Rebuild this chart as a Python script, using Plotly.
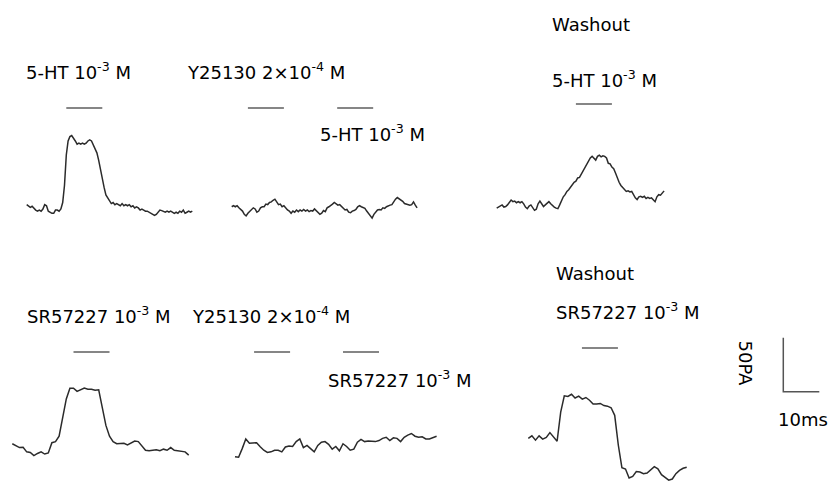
import numpy as np
import plotly.graph_objects as go

# ---------------- data (currents in pA relative to baseline) ----------------
DT_FINE = 0.5    # ms sampling interval, top row
DT_COARSE = 1.0  # ms sampling interval, bottom row

I_5HT = [4, 3, 1.5, 2.5, 0.5, -1, -2, -1, -2, 0,
         4, 3, -2, -3, -4, -4, -1, -1, -2, 0,
         6, 22, 50, 63, 67, 68, 66, 63, 60, 61,
         60, 61, 60, 61, 63, 64, 63, 59, 56, 52,
         45, 36, 27, 20, 13, 10, 7, 5, 6, 4,
         5, 4, 3, 5, 3, 4, 3, 4, 2, 3,
         1, 2, 1, -1, 0, -1, -2, -2, -3, -4,
         -5, -6, -5, -3, -1, -1.5, -2, -3, -2, -3,
         -2, -3, -4, -3, -4, -2, -3, -1, -4, -3,
         -2, -3, -2]

I_Y_5HT = [3, 4, 3, 4, 2, 0.5, -1, -4, -5.5, -3,
           -1.5, 0, 2, 1, -2, -1, 2, 3, 3, 5.5,
           5, 7, 7.5, 9, 10, 7.5, 5, 5.5, 3, 4,
           1.5, 0, -1, -3, -1, -2, 0, -1.5, 0, -1,
           0.5, -1, 0, -1.5, -0.5, -1, 1, -0.5, -2, -4,
           -3, -0.5, -1.5, 2, 3, 4, 5.5, 7, 6, 4.5,
           5, 3, 2, 0, 0.5, -2, -2.5, -1, -0.5, 0.5,
           3, 4, 3, 2, 1.5, -1, -3, -5.5, -7.5, -4,
           -1.5, 0, 0.5, 0, 2, 1.5, 3, 4, 4.5, 5,
           8, 10, 11.5, 10.5, 9, 8, 6, 5.5, 5, 4.5,
           5, 7.5, 4.5, 2]

I_WASH_5HT = [-2, -1, 0, 1, -1, -0.5, 1, 3, 5.5, 4,
              4.5, 3, 4, 3, 4, 2, -1, -2.5, 0, 1,
              -1, -4, -3, 2, 4.5, 2, -0.5, 1, 3, 4,
              2, 0, -1, -2, -2.5, 1, 5.5, 8.5, 10.5, 13.5,
              15, 17.5, 20.5, 22, 23, 26, 26.5, 29.5, 33, 36,
              39.5, 42.5, 44.5, 46, 44, 42.5, 46, 47, 45.5, 46.5,
              46, 44.5, 39.5, 39, 36, 34.5, 30.5, 26, 22, 19,
              17, 15, 13.5, 14, 13, 13.5, 10, 7.5, 6, 8.5,
              9, 8, 9, 7, 8, 7, 7.5, 5.5, 4, 8.5,
              10.5, 10, 12, 14]

I_SR = [3, 1.5, -0.5, -0.3, -4.5, -5, -8, -6, -4.5, -6.5,
        -5.5, 4, 5, 10, 27, 44.5, 54.5, 54.5, 51.5, 53,
        54.5, 53.5, 53.5, 52.5, 53, 36.5, 20, 10, 5, 3,
        3, 3.5, 2, 4, 5.5, 5, 1, -3, -3.5, -3,
        -2.5, -3.5, -2, -3, -0.5, -3, -3.5, -4, -4.5, -7.5]

I_Y_SR = [-9, -9.5, -1.5, 7.5, 3.5, 3.5, 4, 0.3, -3, -5,
          -4.5, -3, -3, -4.5, 0, 1, 0.5, 5, 7.5, -0.5,
          1.5, -1.5, -4.5, 1.5, 4.5, 5, 2.5, -2, 0.5, -3.5,
          3, 0.5, -3, -2, 4.5, 7, 5, 5.5, 5.5, 5,
          6, 8, 9, 6, 8.5, 8, 5, 9, 11, 12.5,
          10, 9, 9.5, 7.5, 7.5, 9, 10]

I_WASH_SR = [-0.3, 2, -2, 2, -1, 0.5, 5, 1, -3, 24,
             39, 38.5, 40.5, 37, 38.7, 36, 37.5, 35, 31.5, 31.5,
             32, 30, 29.5, 28, 21, -6.5, -27.5, -28.7, -37, -35.5,
             -31, -31.5, -33, -32.5, -29.5, -26.5, -28.5, -34, -36.5, -39,
             -38, -33, -30, -28, -27]

# drug application periods (ms from start of each trace)
APP_5HT = [(11, 21)]
APP_Y_5HT = [(4.5, 14.5), (29.3, 39.3)]
APP_WASH_5HT = [(22, 32)]
APP_SR = [(17, 27)]
APP_Y_SR = [(5.3, 15.3), (30, 40)]
APP_WASH_SR = [(14.9, 24.9)]

SCALE_PA = 50
SCALE_MS = 10

LABELS = ["5-HT 10<sup>-3</sup> M", "Y25130 2×10<sup>-4</sup> M", "5-HT 10<sup>-3</sup> M",
          "Washout", "5-HT 10<sup>-3</sup> M",
          "SR57227 10<sup>-3</sup> M", "Y25130 2×10<sup>-4</sup> M", "SR57227 10<sup>-3</sup> M",
          "Washout", "SR57227 10<sup>-3</sup> M"]

# ---------------- layout / placement (pixels) ----------------
W, H = 830, 482
PX_PER_MS = 3.6
PX_PER_PA = 1.08

# (current, dt, applications, trace start x px, baseline y px, bar y px)
PANELS = [
    (I_5HT, DT_FINE, APP_5HT, 26.7, 209, 108),
    (I_Y_5HT, DT_FINE, APP_Y_5HT, 231.7, 210, 108),
    (I_WASH_5HT, DT_FINE, APP_WASH_5HT, 496.7, 206, 104),
    (I_SR, DT_COARSE, APP_SR, 12.3, 447, 352),
    (I_Y_SR, DT_COARSE, APP_Y_SR, 235, 447, 352),
    (I_WASH_SR, DT_COARSE, APP_WASH_SR, 528.3, 438, 348),
]
LABEL_POS = [(26, 71), (187, 71), (320, 132.7), (551.7, 24), (551.7, 79.3),
             (26.7, 314.5), (192, 314.5), (328.3, 379), (556, 273), (556, 311)]

TRACE_COLOR = "#2b2b2b"
BAR_COLOR = "#5e5e5e"
FONT = dict(family="DejaVu Sans", size=18, color="#000000")

fig = go.Figure()
layout_axes = {}

def add_axes(i, left, right, top, bottom, x0, base):
    xn = "x" if i == 1 else f"x{i}"
    yn = "y" if i == 1 else f"y{i}"
    layout_axes["xaxis" if i == 1 else f"xaxis{i}"] = dict(
        domain=[left / W, right / W],
        range=[(left - x0) / PX_PER_MS, (right - x0) / PX_PER_MS],
        visible=False, anchor=yn, fixedrange=True)
    layout_axes["yaxis" if i == 1 else f"yaxis{i}"] = dict(
        domain=[1 - bottom / H, 1 - top / H],
        range=[(base - bottom) / PX_PER_PA, (base - top) / PX_PER_PA],
        visible=False, anchor=xn, fixedrange=True)
    return xn, yn

for i, (cur, dt, apps, x0, base, bar_px) in enumerate(PANELS, start=1):
    t = np.arange(len(cur)) * dt
    left = max(x0 - 8, 0)
    right = min(x0 + t[-1] * PX_PER_MS + 8, W)
    top = max(bar_px - 10, 0)
    bottom = min(base + 50, H)
    xn, yn = add_axes(i, left, right, top, bottom, x0, base)
    fig.add_trace(go.Scatter(x=t, y=cur, mode="lines", xaxis=xn, yaxis=yn,
                             line=dict(color=TRACE_COLOR, width=1.5),
                             hoverinfo="skip", showlegend=False))
    bar_level = (base - bar_px) / PX_PER_PA
    for (on, off) in apps:
        fig.add_trace(go.Scatter(x=[on, off], y=[bar_level, bar_level], mode="lines",
                                 xaxis=xn, yaxis=yn,
                                 line=dict(color=BAR_COLOR, width=1.6),
                                 hoverinfo="skip", showlegend=False))

# scale bar panel
SB_X0, SB_BASE = 783.3, 391.7
xn, yn = add_axes(7, 770, 828, 325, 400, SB_X0, SB_BASE)
fig.add_trace(go.Scatter(x=[0, 0, SCALE_MS], y=[SCALE_PA, 0, 0], mode="lines",
                         xaxis=xn, yaxis=yn, line=dict(color="#555555", width=1.5),
                         hoverinfo="skip", showlegend=False))

annotations = []
for text, (lx, cy) in zip(LABELS, LABEL_POS):
    annotations.append(dict(text=text, x=lx / W, y=1 - cy / H, xref="paper", yref="paper",
                            xanchor="left", yanchor="middle", showarrow=False,
                            font=FONT, borderpad=0, borderwidth=0))
annotations.append(dict(text=f"{SCALE_PA}PA", x=745.5 / W, y=1 - 363 / H, xref="paper",
                        yref="paper", xanchor="center", yanchor="middle", textangle=90,
                        showarrow=False, font=FONT, borderpad=0, borderwidth=0))
annotations.append(dict(text=f"{SCALE_MS}ms", x=803 / W, y=1 - 419 / H, xref="paper",
                        yref="paper", xanchor="center", yanchor="middle",
                        showarrow=False, font=FONT, borderpad=0, borderwidth=0))

fig.update_layout(width=W, height=H, autosize=False,
                  margin=dict(l=0, r=0, t=0, b=0, pad=0),
                  paper_bgcolor="white", plot_bgcolor="rgba(0,0,0,0)",
                  annotations=annotations, showlegend=False, **layout_axes)

fig.write_html("out.html", config={"displayModeBar": False})
